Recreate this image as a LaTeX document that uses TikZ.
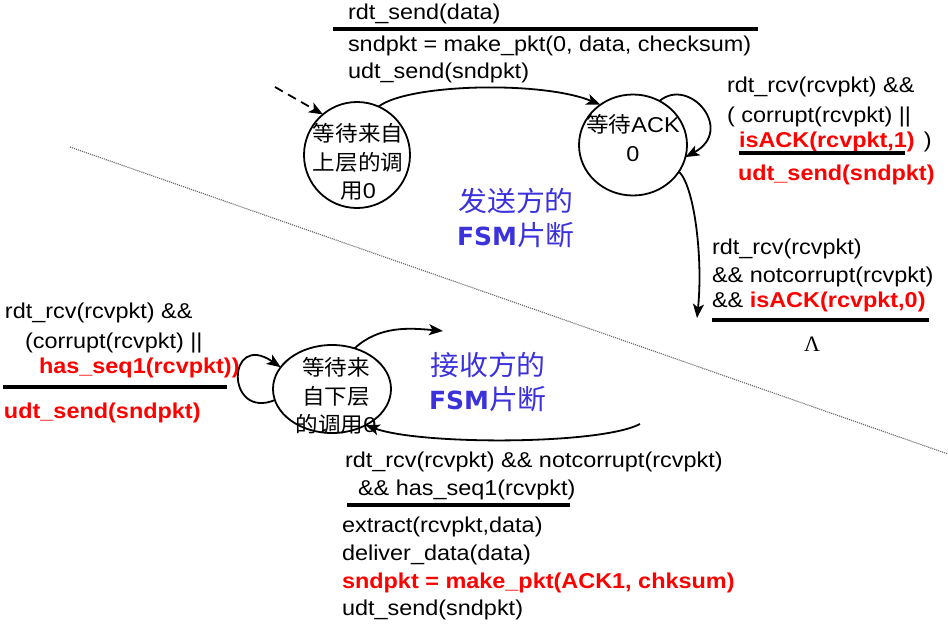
\documentclass[tikz,border=0pt]{standalone}
\usepackage{fontspec}
\setmainfont{Liberation Sans}[FakeStretch=1.09]
\newfontfamily\cjk{Noto Sans CJK SC}[FakeStretch=1.05]
\newfontfamily\fsmfont{DejaVu Sans}
\newfontfamily\lamfont{Liberation Serif}
\usetikzlibrary{arrows.meta,shapes.geometric}

\definecolor{actred}{RGB}{255,0,0}
\definecolor{fsmblue}{RGB}{60,50,220}

\begin{document}
\begin{tikzpicture}[x=1pt,y=-1pt,
  every node/.style={inner sep=0pt, outer sep=0pt},
  txt/.style={anchor=base west, font=\fontsize{21.5}{26}\selectfont},
  act/.style={txt, text=actred, font=\fontsize{21.5}{26}\selectfont\bfseries},
  state/.style={draw, ellipse, line width=1.8pt},
  statetext/.style={align=center, font=\fontsize{21.5}{28.5}\selectfont},
  fsmlabel/.style={align=center, text=fsmblue, font=\fontsize{27.5}{34}\selectfont},
  rule/.style={line width=3.5pt},
  trans/.style={line width=1.8pt, -{Stealth[length=14pt,width=11pt,inset=3.5pt]}},
  divider/.style={black!60, line width=1.1pt, densely dotted}
]
\path[use as bounding box] (0,0) rectangle (948,624);

% sender / receiver divider
\draw[divider] (70,147) -- (948,454);

% ---------- sender ----------
\node[state, minimum width=106pt, minimum height=106pt] (s0) at (357,155) {};
\node[statetext] (s0txt) at (358,162) {{\cjk 等待来自}\\{\cjk 上层的调}\\{\cjk 用}0};

\node[state, minimum width=108pt, minimum height=101pt] (ack0) at (633,145) {};
\node[statetext] (ack0txt) at (633,138) {{\cjk 等待}ACK\\0};

\coordinate (init) at (275,87);
\draw[trans, dashed, dash pattern=on 9pt off 6pt] (init) -- (s0.130);

\draw[trans] (s0.66) .. controls +(30,-23) and +(-58,-24) .. (ack0.129);
\draw[trans] (ack0.59) .. controls +(30,-25) and +(50,-27) .. (ack0.-13);
\coordinate (ackout) at (697,318);
\draw[trans] (ack0.-30) .. controls +(16,16) and +(6,-58) .. (ackout);

% send event / actions
\node[txt] (e1) at (348,19) {rdt\_send(data)};
\draw[rule] (333,29) -- (758,29);
\node[txt] (a1) at (348,51) {sndpkt = make\_pkt(0, data, checksum)};
\node[txt] (a2) at (348,78) {udt\_send(sndpkt)};

% wrong ack / corrupt self-loop
\node[txt] (e2) at (727,92) {rdt\_rcv(rcvpkt) \&\&};
\node[txt] (e3) at (727,122) {( corrupt(rcvpkt) ||};
\node[txt] (e4) at (739,147) {\textcolor{actred}{\bfseries isACK(rcvpkt,1)}\hspace{9pt})};
\draw[rule] (739,153) -- (905,153);
\node[act] (a3) at (738,180) {udt\_send(sndpkt)};

% ack 0 received
\node[txt] (e5) at (712,254) {rdt\_rcv(rcvpkt)};
\node[txt] (e6) at (712,282) {\&\& notcorrupt(rcvpkt)};
\node[txt] (e7) at (712,307) {\&\& \textcolor{actred}{\bfseries isACK(rcvpkt,0)}};
\draw[rule] (712,320) -- (929,320);
\node[font=\lamfont\fontsize{22}{26}\selectfont] (lam) at (812,344) {Λ};

\node[fsmlabel] (sndlbl) at (516,218) {{\cjk 发送方的}\\{\fsmfont\fontsize{25}{34}\selectfont\bfseries FSM}{\cjk 片断}};

% ---------- receiver ----------
\node[state, minimum width=118pt, minimum height=88pt] (r1) at (332,389) {};
\node[statetext] (r1txt) at (336,396) {{\cjk 等待来}\\{\cjk 自下层}\\{\cjk 的调用}0};

\draw[trans] (r1.191) .. controls +(-50,20) and +(-54,-37) .. (r1.157);
\coordinate (r1out) at (443,331);
\draw[trans] (r1.61) .. controls +(25,-23) and +(-33,-3) .. (r1out);
\coordinate (r1back) at (640,424);
\draw[trans] (r1back) .. controls +(-40,21) and +(55,20) .. (r1.-47);

% duplicate / corrupt self-loop
\node[txt] (e8) at (5,318) {rdt\_rcv(rcvpkt) \&\&};
\node[txt] (e9) at (25,348) {(corrupt(rcvpkt) ||};
\node[act] (e10) at (39,373) {has\_seq1(rcvpkt))};
\draw[rule] (3,387) -- (227,387);
\node[act] (a4) at (4,418) {udt\_send(sndpkt)};

\node[fsmlabel] (rcvlbl) at (488,382) {{\cjk 接收方的}\\{\fsmfont\fontsize{25}{34}\selectfont\bfseries FSM}{\cjk 片断}};

% seq 1 received
\node[txt] (e11) at (345,467) {rdt\_rcv(rcvpkt) \&\& notcorrupt(rcvpkt)};
\node[txt] (e12) at (358,495) {\&\& has\_seq1(rcvpkt)};
\draw[rule] (347,505) -- (570,505);
\node[txt] (a5) at (342,532) {extract(rcvpkt,data)};
\node[txt] (a6) at (342,560) {deliver\_data(data)};
\node[act] (a7) at (342,588) {sndpkt = make\_pkt(ACK1, chksum)};
\node[txt] (a8) at (342,615) {udt\_send(sndpkt)};
\end{tikzpicture}
\end{document}
